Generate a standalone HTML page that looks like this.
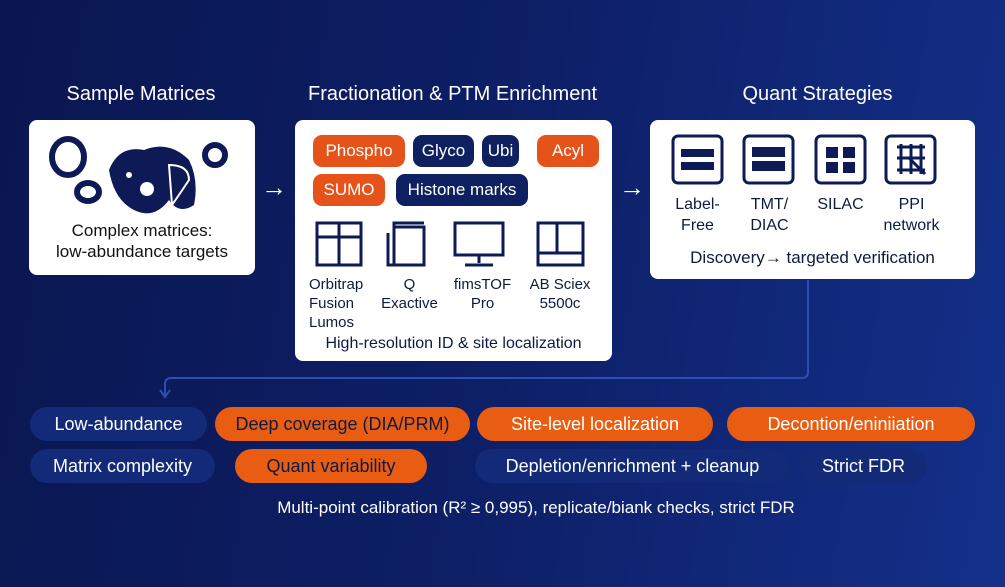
<!DOCTYPE html>
<html><head><style>
body{margin:0;width:1005px;height:587px;overflow:hidden;background:linear-gradient(100deg,#0a1650 0%,#0d1f66 50%,#14308a 100%);font-family:"Liberation Sans",sans-serif;position:relative}
.a{position:absolute}
.t{color:#fff;font-size:20px;text-align:center}
.box{position:absolute;background:#fff;border-radius:8px}
.chip{position:absolute;height:32px;line-height:32px;border-radius:9px;color:#fff;font-size:17px;text-align:center}
.o{background:#e5531a}.n{background:#0e2060}
.pill{position:absolute;height:34px;line-height:34px;border-radius:17px;font-size:18px;text-align:center;color:#fff}
.pn{background:#122a78}.po{background:#e85d12}
.lbl{position:absolute;color:#0e1a40;font-size:15px;text-align:center;line-height:19px}
</style></head><body>
<div class="a t" style="left:20px;top:83px;width:242px">Sample Matrices</div>
<div class="a t" style="left:280px;top:83px;width:345px">Fractionation &amp; PTM Enrichment</div>
<div class="a t" style="left:700px;top:83px;width:235px">Quant Strategies</div>
<div class="a" style="left:261px;top:172px;color:#fff;font-size:26px;font-weight:bold">→</div>
<div class="a" style="left:619px;top:172px;color:#fff;font-size:26px;font-weight:bold">→</div>

<div class="box" style="left:29px;top:120px;width:226px;height:155px"></div>
<svg class="a" style="left:29px;top:120px" width="226" height="100">
<g fill="none" stroke="#0e1a55" stroke-width="6">
<ellipse cx="39" cy="37" rx="16" ry="18"/><ellipse cx="59" cy="72" rx="11" ry="9"/><circle cx="186" cy="35" r="10"/></g>
<path d="M80 50 Q90 25 115 30 Q140 20 160 40 Q170 60 165 85 Q150 95 140 80 Q125 100 105 90 Q85 80 80 50Z" fill="#0e1a55"/>
<circle cx="118" cy="69" r="7" fill="#fff"/><circle cx="100" cy="55" r="3" fill="#fff"/>
<path d="M140 45 Q160 45 160 60 Q150 75 143 85 Z" fill="none" stroke="#fff" stroke-width="2"/>
</svg>
<div class="lbl" style="left:29px;top:220px;width:226px;font-size:17px;line-height:21px;color:#111">Complex matrices:<br>low-abundance targets</div>

<div class="box" style="left:295px;top:120px;width:317px;height:241px"></div>
<div class="chip o" style="left:313px;top:135px;width:92px">Phospho</div>
<div class="chip n" style="left:413px;top:135px;width:61px">Glyco</div>
<div class="chip n" style="left:482px;top:135px;width:37px">Ubi</div>
<div class="chip o" style="left:537px;top:135px;width:62px">Acyl</div>
<div class="chip o" style="left:313px;top:174px;width:72px">SUMO</div>
<div class="chip n" style="left:396px;top:174px;width:132px">Histone marks</div>
<svg class="a" style="left:295px;top:215px" width="317" height="60">
<g fill="none" stroke="#0e1a55" stroke-width="3">
<rect x="22" y="8" width="44" height="42"/><line x1="22" y1="22" x2="66" y2="22"/><line x1="44" y1="8" x2="44" y2="50"/>
<rect x="99" y="12" width="30" height="38"/><path d="M93 18 V50 H99 M99 12 V8 H129"/>
<rect x="160" y="8" width="48" height="32"/><path d="M184 40 V48 M170 50 H198"/>
<rect x="243" y="8" width="45" height="42"/><line x1="243" y1="38" x2="288" y2="38"/><line x1="262" y1="8" x2="262" y2="38"/>
</g></svg>
<div class="lbl" style="left:309px;top:275px;width:70px;text-align:left">Orbitrap<br>Fusion<br>Lumos</div>
<div class="lbl" style="left:372px;top:275px;width:75px">Q<br>Exactive</div>
<div class="lbl" style="left:445px;top:275px;width:75px">fimsTOF<br>Pro</div>
<div class="lbl" style="left:520px;top:275px;width:80px">AB Sciex<br>5500c</div>
<div class="lbl" style="left:295px;top:334px;width:317px;font-size:16px">High-resolution ID &amp; site localization</div>

<div class="box" style="left:650px;top:120px;width:325px;height:159px"></div>
<svg class="a" style="left:650px;top:120px" width="325" height="75">
<g fill="none" stroke="#0e1a55" stroke-width="3">
<rect x="23" y="16" width="49" height="47" rx="5"/><rect x="94" y="16" width="49" height="47" rx="5"/><rect x="166" y="16" width="49" height="47" rx="5"/><rect x="236" y="16" width="49" height="47" rx="5"/>
<path d="M247 27 H275 M247 38 H275 M247 50 H275 M251 24 V54 M261 24 V54 M271 24 V54 M259 38 L275 54"/></g>
<g fill="#0e1a55"><rect x="31" y="29" width="33" height="8"/><rect x="31" y="42" width="33" height="8"/>
<rect x="102" y="27" width="33" height="10"/><rect x="102" y="41" width="33" height="10"/>
<rect x="176" y="27" width="12" height="11"/><rect x="193" y="27" width="12" height="11"/><rect x="176" y="42" width="12" height="11"/><rect x="193" y="42" width="12" height="11"/></g>
</svg>
<div class="lbl" style="left:660px;top:194px;width:75px;font-size:16px;line-height:21px">Label-<br>Free</div>
<div class="lbl" style="left:732px;top:194px;width:75px;font-size:16px;line-height:21px">TMT/<br>DIAC</div>
<div class="lbl" style="left:803px;top:194px;width:75px;font-size:16px;line-height:21px">SILAC</div>
<div class="lbl" style="left:874px;top:194px;width:75px;font-size:16px;line-height:21px">PPI<br>network</div>
<div class="lbl" style="left:650px;top:248px;width:325px;font-size:17px">Discovery→ targeted verification</div>

<svg class="a" style="left:0;top:0" width="1005" height="587">
<path d="M808 280 V372 Q808 378 802 378 H171 Q165 378 165 384 V395" fill="none" stroke="#2e4db0" stroke-width="2"/>
<path d="M160 390 L165 397 L170 390" fill="none" stroke="#2e4db0" stroke-width="2"/>
</svg>

<div class="pill pn" style="left:30px;top:407px;width:177px">Low-abundance</div>
<div class="pill po" style="left:215px;top:407px;width:255px;color:#0e1a40">Deep coverage (DIA/PRM)</div>
<div class="pill po" style="left:477px;top:407px;width:236px">Site-level localization</div>
<div class="pill po" style="left:727px;top:407px;width:248px">Decontion/eniniiation</div>
<div class="pill pn" style="left:30px;top:449px;width:185px">Matrix complexity</div>
<div class="pill po" style="left:235px;top:449px;width:192px;color:#0e1a40">Quant variability</div>
<div class="pill pn" style="left:475px;top:449px;width:315px">Depletion/enrichment + cleanup</div>
<div class="pill pn" style="left:800px;top:449px;width:127px">Strict FDR</div>
<div class="a" style="left:0;top:498px;width:1072px;text-align:center;color:#fff;font-size:17px">Multi-point calibration (R² ≥ 0,995), replicate/biank checks, strict FDR</div>
</body></html>
